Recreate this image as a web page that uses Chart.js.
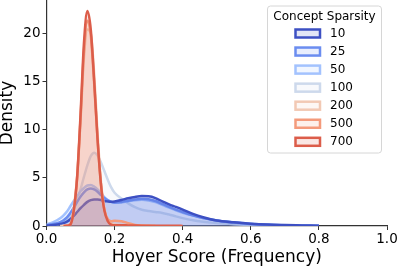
<!DOCTYPE html>
<html>
<head>
<meta charset="utf-8">
<script src="https://cdn.jsdelivr.net/npm/chart.js@4/dist/chart.umd.min.js"></script>
<style>
  html, body { margin: 0; padding: 0; background: #fff; }
  #wrap { width: 399px; height: 268px; }
</style>
</head>
<body>
<div id="wrap"><canvas id="c" width="399" height="268"></canvas></div>
<script>
// ---- data ----
const xs = [0.00, 0.02, 0.04, 0.05, 0.06, 0.07, 0.08, 0.09, 0.10, 0.11, 0.12, 0.13, 0.14, 0.15, 0.16, 0.17, 0.18, 0.19, 0.20,
            0.22, 0.24, 0.26, 0.28, 0.30, 0.32, 0.34, 0.36, 0.38, 0.40, 0.43, 0.46, 0.50, 0.55, 0.60, 0.65, 0.70, 0.75, 0.80];

const sparsityLevels = ["10", "25", "50", "100", "200", "500", "700"];

const dens10  = [0.05, 0.10, 0.20, 0.30, 0.45, 0.70, 1.05, 1.45, 1.85, 2.20, 2.50, 2.68, 2.76, 2.75, 2.70, 2.60, 2.55, 2.52, 2.55,
                 2.70, 2.88, 3.02, 3.10, 3.08, 2.90, 2.55, 2.25, 1.98, 1.70, 1.25, 0.90, 0.56, 0.38, 0.24, 0.15, 0.10, 0.06, 0.02];
const dens25  = [0.10, 0.20, 0.40, 0.60, 0.90, 1.35, 1.90, 2.50, 3.05, 3.50, 3.80, 3.90, 3.80, 3.55, 3.20, 2.90, 2.65, 2.50, 2.45,
                 2.50, 2.62, 2.75, 2.82, 2.78, 2.60, 2.30, 1.98, 1.70, 1.45, 1.10, 0.82, 0.56, 0.36, 0.22, 0.13, 0.07, 0.04, 0.02];
const dens50  = [0.15, 0.40, 0.80, 1.10, 1.50, 2.05, 2.60, 3.10, 3.60, 3.95, 4.20, 4.25, 4.10, 3.80, 3.40, 3.00, 2.70, 2.50, 2.42,
                 2.45, 2.55, 2.68, 2.72, 2.65, 2.48, 2.20, 1.90, 1.62, 1.38, 1.08, 0.84, 0.58, 0.38, 0.24, 0.14, 0.08, 0.04, 0.02];
const dens100 = [0.05, 0.10, 0.25, 0.40, 0.65, 1.05, 1.70, 2.60, 3.80, 5.10, 6.30, 7.25, 7.60, 7.30, 6.60, 5.70, 4.80, 4.00, 3.45,
                 2.85, 2.35, 1.95, 1.68, 1.55, 1.45, 1.35, 1.20, 1.00, 0.82, 0.60, 0.45, 0.30, 0.18, 0.10, 0.05, 0.03, 0.01, 0.00];
const dens200 = [null, null, 0.00, 0.02, 0.06, 0.20, 1.80, 5.20, 11.00, 17.50, 20.40, 20.00, 15.80, 9.60, 4.60, 1.80, 0.60, 0.25, 0.15,
                 0.10, 0.06, 0.04, 0.02, 0.01, 0.00, null, null, null, null, null, null, null, null, null, null, null, null, null];
const dens500 = [null, null, null, 0.00, 0.03, 0.15, 1.60, 5.00, 11.20, 18.20, 21.30, 19.80, 14.80, 8.90, 4.30, 1.70, 0.70, 0.50, 0.55,
                 0.50, 0.30, 0.10, 0.04, 0.02, 0.00, null, null, null, null, null, null, null, null, null, null, null, null, null];
const dens700 = [null, null, null, 0.00, 0.02, 0.15, 1.60, 5.10, 11.60, 19.00, 22.30, 20.40, 15.10, 9.00, 4.30, 1.60, 0.50, 0.15, 0.08,
                 0.08, 0.06, 0.04, 0.03, 0.03, 0.02, 0.02, 0.02, 0.02, 0.01, null, null, null, null, null, null, null, null, null];

const xTicks = [0.0, 0.2, 0.4, 0.6, 0.8, 1.0];
const yTicks = [0, 5, 10, 15, 20];

// ---- styling ----
const lineColors = ["#3d50c3", "#6b8df0", "#a3c2fe", "#cdd9ec", "#f2c9b4", "#f49a7b", "#dc5d4a"];
const drawOrder  = [3, 4, 5, 6, 2, 1, 0]; // red curves on top
const allDens = [dens10, dens25, dens50, dens100, dens200, dens500, dens700];

function hexA(hex, a) {
  const n = parseInt(hex.slice(1), 16);
  return `rgba(${(n >> 16) & 255},${(n >> 8) & 255},${n & 255},${a})`;
}

const datasets = sparsityLevels.map((lab, i) => ({
  label: lab,
  data: xs.map((x, k) => ({ x: x, y: allDens[i][k] })),
  borderColor: lineColors[i],
  backgroundColor: hexA(lineColors[i], 0.15),
  borderWidth: 2.5,
  fill: 'origin',
  pointRadius: 0,
  cubicInterpolationMode: 'monotone',
  spanGaps: false,
  order: drawOrder[i]
}));

const FONT = "'DejaVu Sans', sans-serif";

const legendPlugin = {
  id: 'boxLegend',
  afterDraw(chart) {
    const ctx = chart.ctx;
    ctx.save();
    const bx = 267.5, by = 6, bw = 114, bh = 147, r = 3;
    ctx.beginPath();
    ctx.moveTo(bx + r, by);
    ctx.lineTo(bx + bw - r, by); ctx.quadraticCurveTo(bx + bw, by, bx + bw, by + r);
    ctx.lineTo(bx + bw, by + bh - r); ctx.quadraticCurveTo(bx + bw, by + bh, bx + bw - r, by + bh);
    ctx.lineTo(bx + r, by + bh); ctx.quadraticCurveTo(bx, by + bh, bx, by + bh - r);
    ctx.lineTo(bx, by + r); ctx.quadraticCurveTo(bx, by, bx + r, by);
    ctx.closePath();
    ctx.fillStyle = 'rgba(255,255,255,0.8)';
    ctx.fill();
    ctx.strokeStyle = '#d6d6d6';
    ctx.lineWidth = 1;
    ctx.stroke();
    ctx.fillStyle = '#000';
    ctx.font = `12px ${FONT}`;
    ctx.textAlign = 'center';
    ctx.textBaseline = 'middle';
    ctx.fillText('Concept Sparsity', 324.5, 16.5);
    ctx.textAlign = 'left';
    chart.data.datasets.forEach((ds, i) => {
      const cy = 33.5 + i * 18.05;
      ctx.fillStyle = '#fff';
      ctx.fillRect(295.5, cy - 4, 24.5, 8);
      ctx.fillStyle = ds.backgroundColor;
      ctx.fillRect(295.5, cy - 4, 24.5, 8);
      ctx.strokeStyle = ds.borderColor;
      ctx.lineWidth = 2.5;
      ctx.strokeRect(295.5, cy - 4, 24.5, 8);
      ctx.fillStyle = '#000';
      ctx.fillText(ds.label, 330, cy + 0.5);
    });
    ctx.restore();
  }
};

new Chart(document.getElementById('c'), {
  type: 'line',
  data: { datasets: datasets },
  plugins: [legendPlugin],
  options: {
    responsive: false,
    animation: false,
    devicePixelRatio: 1,
    layout: { padding: { left: 0, right: 12, top: 0, bottom: 0 } },
    plugins: { legend: { display: false }, tooltip: { enabled: false } },
    scales: {
      x: {
        type: 'linear', min: 0, max: 1,
        afterBuildTicks: (s) => { s.ticks = xTicks.map(v => ({ value: v })); },
        afterFit: (s) => { s.height = 42; s.paddingLeft = 0; s.paddingRight = 0; },
        ticks: { color: '#000', font: { family: FONT, size: 13.5 }, padding: 1,
                 maxRotation: 0, callback: (v) => Number(v).toFixed(1) },
        grid: { display: true, drawOnChartArea: false, drawTicks: true, tickLength: 4, color: '#333', lineWidth: 1 },
        border: { display: true, color: '#333', width: 1.2 },
        title: { display: true, text: 'Hoyer Score (Frequency)', color: '#000',
                 font: { family: FONT, size: 17, lineHeight: 1.2 }, padding: { top: 0, bottom: 0 } }
      },
      y: {
        type: 'linear', min: 0, max: 23.45,
        afterBuildTicks: (s) => { s.ticks = yTicks.map(v => ({ value: v })); },
        afterFit: (s) => { s.width = 46.5; s.paddingTop = 0; s.paddingBottom = 0; },
        ticks: { color: '#000', font: { family: FONT, size: 13.5 }, padding: 2,
                 callback: (v) => String(v) },
        grid: { display: true, drawOnChartArea: false, drawTicks: true, tickLength: 4, color: '#333', lineWidth: 1 },
        border: { display: true, color: '#333', width: 1.2 },
        title: { display: true, text: 'Density', color: '#000',
                 font: { family: FONT, size: 17, lineHeight: 1.0 }, padding: { top: -1, bottom: 0 } }
      }
    }
  }
});
</script>
</body>
</html>
